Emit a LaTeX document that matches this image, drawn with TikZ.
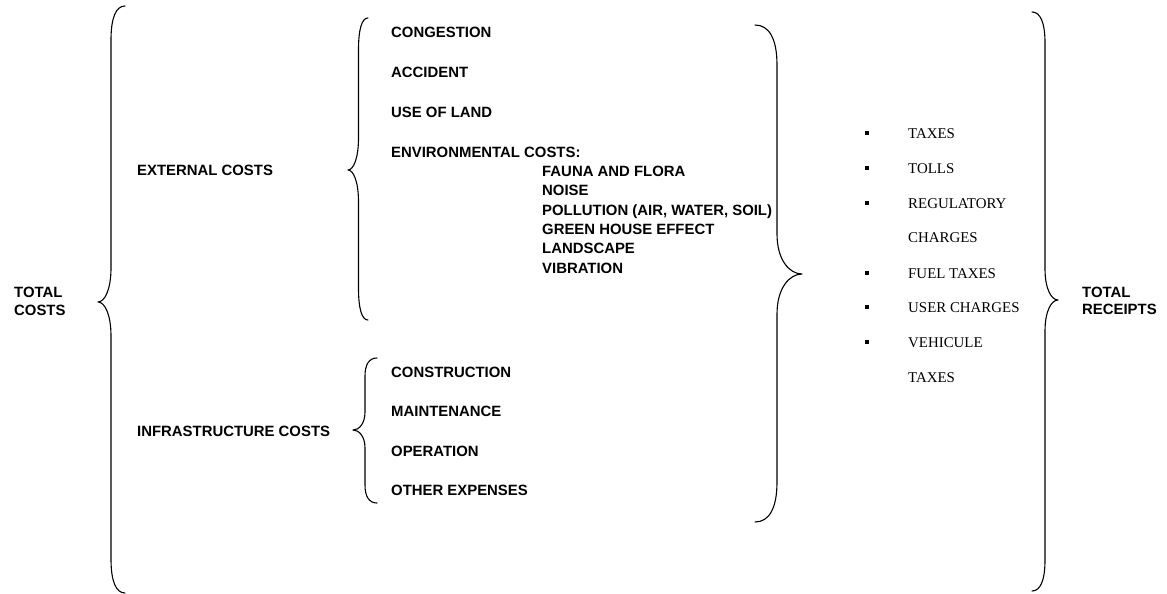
\documentclass[tikz,border=0pt]{standalone}
\usepackage{fontspec}
\setmainfont{Liberation Serif}
\newfontfamily\arialfont{Liberation Sans}
\tikzset{
  lab/.style={anchor=base west, inner sep=0pt, font=\arialfont\bfseries\fontsize{14.9}{17}\selectfont},
  rlab/.style={anchor=base west, inner sep=0pt, font=\fontsize{14.9}{17}\selectfont},
  bul/.style={fill=black, minimum size=4pt, inner sep=0pt},
  braceline/.style={line width=1.1pt, line cap=round, line join=round}
}
% #1 x of ends, #2 x of stem, #3 x of tip, #4 y top, #5 y tip, #6 y bottom, #7 curl length
\newcommand{\mybrace}[7]{%
  \draw[braceline] (#1,#4) .. controls ({#2+0.35*(#1-#2)},{#4}) and (#2,{#4+0.35*#7}) .. (#2,{#4+#7})
    -- (#2,{#5-#7}) .. controls (#2,{#5-0.35*#7}) and ({#3+0.5*(#2-#3)},{#5}) .. (#3,#5)
    .. controls ({#3+0.5*(#2-#3)},{#5}) and (#2,{#5+0.35*#7}) .. (#2,{#5+#7})
    -- (#2,{#6-#7}) .. controls (#2,{#6-0.35*#7}) and ({#2+0.35*(#1-#2)},{#6}) .. (#1,#6);}
\begin{document}
\begin{tikzpicture}[x=1pt,y=-1pt]
\useasboundingbox (0,0) rectangle (1167,594);

% braces
\mybrace{125}{111}{98}{6}{302}{593}{34}
\mybrace{368}{358.5}{348}{18}{170}{320}{32}
\mybrace{377}{365}{353}{358}{430}{503}{18}
\mybrace{755}{777}{802}{25}{274}{522}{40}
\mybrace{1032}{1045}{1058}{12}{300}{591}{31}

% left column
\node[lab] (tc1) at (14,297) {TOTAL};
\node[lab] (tc2) at (14,315.5) {COSTS};
\node[lab] (ext) at (137,175.3) {EXTERNAL COSTS};
\node[lab] (inf) at (137,436.3) {INFRASTRUCTURE COSTS};

% external items
\node[lab] (e1) at (391,37.3) {CONGESTION};
\node[lab] (e2) at (391,77.3) {ACCIDENT};
\node[lab] (e3) at (391,117.3) {USE OF LAND};
\node[lab] (e4) at (391,157.3) {ENVIRONMENTAL COSTS:};
\node[lab] (v1) at (542,176.3) {FAUNA AND FLORA};
\node[lab] (v2) at (542,195.6) {NOISE};
\node[lab] (v3) at (542,215) {POLLUTION (AIR, WATER, SOIL)};
\node[lab] (v4) at (542,234.4) {GREEN HOUSE EFFECT};
\node[lab] (v5) at (542,253.8) {LANDSCAPE};
\node[lab] (v6) at (542,273.2) {VIBRATION};

% infrastructure items
\node[lab] (i1) at (391,377.3) {CONSTRUCTION};
\node[lab] (i2) at (391,416.3) {MAINTENANCE};
\node[lab] (i3) at (391,456.3) {OPERATION};
\node[lab] (i4) at (391,495.3) {OTHER EXPENSES};

% receipts
\node[bul] (b1) at (867,133) {};
\node[bul] (b2) at (867,168) {};
\node[bul] (b3) at (867,203) {};
\node[bul] (b4) at (867,273) {};
\node[bul] (b5) at (867,307) {};
\node[bul] (b6) at (867,342) {};
\node[rlab] (r1) at (908,138) {TAXES};
\node[rlab] (r2) at (908,173) {TOLLS};
\node[rlab] (r3) at (908,208) {REGULATORY};
\node[rlab] (r3b) at (908,242) {CHARGES};
\node[rlab] (r4) at (908,278) {FUEL TAXES};
\node[rlab] (r5) at (908,312) {USER CHARGES};
\node[rlab] (r6) at (908,347) {VEHICULE};
\node[rlab] (r6b) at (908,382) {TAXES};

\node[lab] (tr1) at (1082,297.5) {TOTAL};
\node[lab] (tr2) at (1082,314.5) {RECEIPTS};
\end{tikzpicture}
\end{document}
